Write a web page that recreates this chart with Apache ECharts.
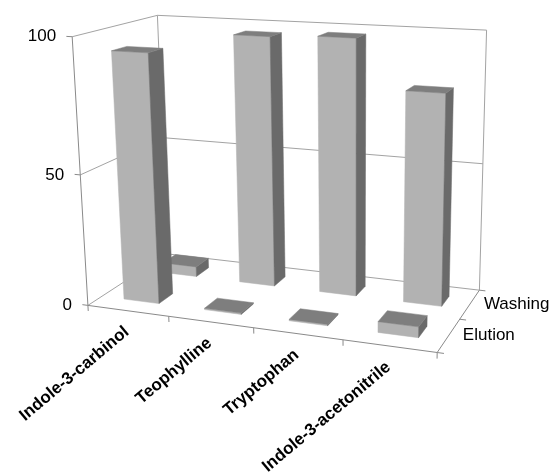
<!DOCTYPE html>
<html>
<head>
<meta charset="utf-8">
<script src="https://cdn.jsdelivr.net/npm/echarts@6/dist/echarts.min.js"></script>
<style>
  html, body { margin: 0; padding: 0; background: #ffffff; }
  #chart { width: 556px; height: 474px; }
</style>
</head>
<body>
<div id="chart"></div>
<script>
// ---- data ----
const categories = ['Indole-3-carbinol', 'Teophylline', 'Tryptophan', 'Indole-3-acetonitrile'];
const seriesNames = ['Elution', 'Washing'];          // front row, back row
const elution = [94, 0.5, 0.5, 4];
const washing = [4, 97, 98, 80];
const valueTicks = [0, 50, 100];
const valueMax = 100;

// ---- perspective camera ----
// calibration of the plot box: [category units, value, depth units, screen x, screen y]
const boxAnchors = [
  [0, 0, 0, 87, 306], [1, 0, 0, 168, 316.5], [2, 0, 0, 252, 327.5], [3, 0, 0, 343, 339.5],
  [4, 0, 0, 439, 352], [4, 0, 1, 460, 319], [4, 0, 2, 478, 291], [0, 0, 2, 170, 255],
  [0, 50, 0, 80, 174], [0, 100, 0, 74, 38], [0, 50, 2, 162.5, 136], [0, 100, 2, 155, 15],
  [4, 50, 2, 482, 163], [4, 100, 2, 488, 31]
];
const SCALE = 500;

function solveLinear(A, b) {
  const n = b.length;
  for (let c = 0; c < n; c++) {
    let piv = c;
    for (let r = c + 1; r < n; r++) if (Math.abs(A[r][c]) > Math.abs(A[piv][c])) piv = r;
    [A[c], A[piv]] = [A[piv], A[c]];
    [b[c], b[piv]] = [b[piv], b[c]];
    for (let r = c + 1; r < n; r++) {
      const f = A[r][c] / A[c][c];
      for (let k = c; k < n; k++) A[r][k] -= f * A[c][k];
      b[r] -= f * b[c];
    }
  }
  const x = new Array(n);
  for (let r = n - 1; r >= 0; r--) {
    let s = b[r];
    for (let k = r + 1; k < n; k++) s -= A[r][k] * x[k];
    x[r] = s / A[r][r];
  }
  return x;
}

// direct linear transform, least squares with p11 = 1
function fitCamera(pts) {
  const n = 11;
  const A = Array.from({ length: n }, () => new Array(n).fill(0));
  const b = new Array(n).fill(0);
  const add = (row, rhs) => {
    for (let i = 0; i < n; i++) {
      for (let j = 0; j < n; j++) A[i][j] += row[i] * row[j];
      b[i] += row[i] * rhs;
    }
  };
  pts.forEach(([X, V, Z, u, v]) => {
    const Y = V / valueMax;
    u /= SCALE; v /= SCALE;
    add([X, Y, Z, 1, 0, 0, 0, 0, -u * X, -u * Y, -u * Z], u);
    add([0, 0, 0, 0, X, Y, Z, 1, -v * X, -v * Y, -v * Z], v);
  });
  return solveLinear(A, b);
}

const P = fitCamera(boxAnchors);
function project(X, V, Z) {
  const Y = V / valueMax;
  const w = P[8] * X + P[9] * Y + P[10] * Z + 1;
  return [
    SCALE * (P[0] * X + P[1] * Y + P[2] * Z + P[3]) / w,
    SCALE * (P[4] * X + P[5] * Y + P[6] * Z + P[7]) / w
  ];
}

const nCat = categories.length;
const nRow = seriesNames.length;
const BAR_W = 0.44;   // bar width, fraction of a category cell
const BAR_D = 0.35;   // bar depth, fraction of a series row

// ---- frame: walls, floor edges, ticks, labels ----
const wallColor = '#a3a3a3';
const axisColor = '#8a8a8a';
const graphics = [];
function seg(a, b, color) {
  const p = project(...a), q = project(...b);
  graphics.push({
    type: 'line', silent: true, z: 0,
    shape: { x1: p[0], y1: p[1], x2: q[0], y2: q[1] },
    style: { stroke: color, lineWidth: 1 }
  });
}
// grid lines on the left and back walls
valueTicks.forEach(t => {
  if (t === 0) return;
  seg([0, t, 0], [0, t, nRow], wallColor);
  seg([0, t, nRow], [nCat, t, nRow], wallColor);
});
seg([0, 0, nRow], [0, valueMax, nRow], wallColor);
seg([nCat, 0, nRow], [nCat, valueMax, nRow], wallColor);
// floor
seg([0, 0, 0], [0, 0, nRow], wallColor);
seg([0, 0, nRow], [nCat, 0, nRow], wallColor);
seg([nCat, 0, 0], [nCat, 0, nRow], axisColor);
seg([0, 0, 0], [nCat, 0, 0], axisColor);
// value axis
seg([0, 0, 0], [0, valueMax, 0], axisColor);

const font = '"Liberation Sans", Arial, sans-serif';
valueTicks.forEach(t => {
  seg([0, t, 0], [-0.07, t, 0], axisColor);
  const p = project(0, t, 0);
  graphics.push({
    type: 'text', silent: true, x: p[0] - 16, y: p[1],
    style: { text: String(t), font: '17px ' + font, fill: '#000', align: 'right', verticalAlign: 'middle' }
  });
});
for (let i = 0; i <= nCat; i++) seg([i, 0, 0], [i, -2.2, 0], axisColor);
for (let k = 0; k <= nRow; k++) seg([nCat, 0, k], [nCat + 0.07, 0, k], axisColor);

categories.forEach((name, i) => {
  const p = project(i + 0.5, 0, 0);
  graphics.push({
    type: 'text', silent: true, x: p[0] - 1, y: p[1] + 19,
    rotation: 40 * Math.PI / 180,
    style: { text: name, font: 'bold 17px ' + font, fill: '#000', align: 'right', verticalAlign: 'middle' }
  });
});
seriesNames.forEach((name, k) => {
  const p = project(nCat, 0, k + 0.5);
  graphics.push({
    type: 'text', silent: true, x: p[0] + 14, y: p[1],
    style: { text: name, font: '17px ' + font, fill: '#000', align: 'left', verticalAlign: 'middle' }
  });
});

// ---- bars: back row first, left to right ----
const rows = [elution, washing];
const barData = [];
for (let k = nRow - 1; k >= 0; k--) {
  rows[k].forEach((v, i) => barData.push([i, k, v]));
}

function renderBar(params, api) {
  const i = api.value(0), k = api.value(1), v = api.value(2);
  const x0 = i + 0.5 - BAR_W / 2, x1 = i + 0.5 + BAR_W / 2;
  const z0 = k + 0.5 - BAR_D / 2, z1 = k + 0.5 + BAR_D / 2;
  const face = (pts, fill) => ({
    type: 'polygon', z2: params.dataIndex * 3,
    shape: { points: pts.map(q => project(...q)) },
    style: { fill: fill, stroke: fill, lineWidth: 0.5 }
  });
  return {
    type: 'group',
    children: [
      face([[x0, 0, z0], [x1, 0, z0], [x1, v, z0], [x0, v, z0]], '#b2b2b2'),
      face([[x1, 0, z0], [x1, 0, z1], [x1, v, z1], [x1, v, z0]], '#6a6a6a'),
      face([[x0, v, z0], [x1, v, z0], [x1, v, z1], [x0, v, z1]], '#7e7e7e')
    ]
  };
}

const chart = echarts.init(document.getElementById('chart'), null, { renderer: 'canvas' });
chart.setOption({
  animation: false,
  backgroundColor: '#ffffff',
  graphic: graphics,
  series: [{
    type: 'custom',
    coordinateSystem: 'none',
    silent: true,
    renderItem: renderBar,
    data: barData
  }]
});
</script>
</body>
</html>
